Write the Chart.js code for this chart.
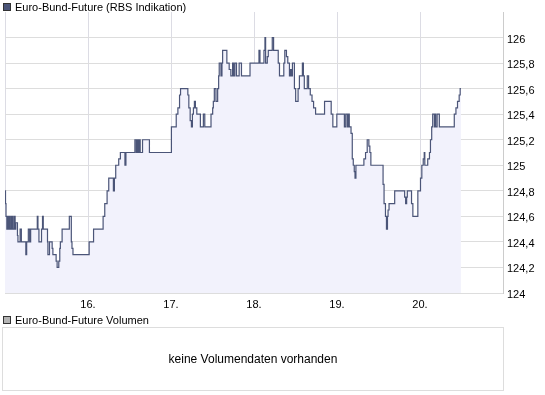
<!DOCTYPE html>
<html>
<head>
<meta charset="utf-8">
<script src="https://cdn.jsdelivr.net/npm/chart.js@4.4.1/dist/chart.umd.min.js"></script>
<style>
    body { margin: 0; background: #fff; font-family: "Liberation Sans", Arial, sans-serif; }
    #wrap { position: relative; width: 545px; height: 395px; overflow: hidden; }
    #priceChart { position: absolute; left: 0; top: 0; }
    .leg { position: absolute; left: 3px; font-size: 11px; color: #000; line-height: 12px; white-space: nowrap; }
    .leg .box { display: inline-block; width: 6px; height: 6px; border: 1px solid #333; margin-right: 4px; vertical-align: 0px; }
    #vol { position: absolute; left: 2px; top: 327px; width: 500px; height: 62px; border: 1px solid #dddddd;
           font-size: 12px; line-height: 62px; text-align: center; color: #000; }
</style>
</head>
<body>
<div id="wrap">
    <canvas id="priceChart" width="545" height="315"></canvas>
    <div class="leg" style="top:1px"><span class="box" style="background:#4b5578"></span>Euro-Bund-Future (RBS Indikation)</div>
    <div class="leg" style="top:314px"><span class="box" style="background:#b4b4b4"></span>Euro-Bund-Future Volumen</div>
    <div id="vol">keine Volumendaten vorhanden</div>
</div>
<script>
// trading days (fractional day of month) and price at each change
const times = [
    15.000, 15.006, 15.012, 15.022, 15.030, 15.042, 15.050, 15.057, 15.072, 15.081,
    15.093, 15.098, 15.114, 15.122, 15.129, 15.150, 15.156, 15.182, 15.197, 15.251,
    15.261, 15.281, 15.297, 15.309, 15.389, 15.397, 15.409, 15.440, 15.452, 15.461,
    15.512, 15.517, 15.536, 15.568, 15.577, 15.616, 15.628, 15.648, 15.660, 15.667,
    15.688, 15.775, 15.799, 15.807, 15.819, 16.014, 16.067, 16.182, 16.202, 16.230,
    16.250, 16.306, 16.318, 16.334, 16.370, 16.390, 16.445, 16.457, 16.565, 16.581,
    16.593, 16.603, 16.617, 16.629, 16.657, 16.740, 17.005, 17.063, 17.083, 17.103,
    17.115, 17.203, 17.215, 17.231, 17.246, 17.258, 17.270, 17.282, 17.294, 17.311,
    17.354, 17.390, 17.407, 17.482, 17.502, 17.510, 17.522, 17.542, 17.562, 17.574,
    17.581, 17.602, 17.614, 17.622, 17.673, 17.701, 17.721, 17.742, 17.754, 17.769,
    17.789, 17.821, 17.849, 17.952, 18.060, 18.072, 18.120, 18.132, 18.140, 18.160,
    18.172, 18.220, 18.236, 18.292, 18.307, 18.359, 18.371, 18.391, 18.407, 18.427,
    18.439, 18.451, 18.463, 18.487, 18.502, 18.531, 18.547, 18.583, 18.595, 18.606,
    18.642, 18.658, 18.678, 18.699, 18.718, 18.742, 18.850, 18.930, 18.950, 18.998,
    19.089, 19.105, 19.124, 19.136, 19.148, 19.169, 19.184, 19.196, 19.208, 19.217,
    19.228, 19.324, 19.344, 19.364, 19.384, 19.396, 19.408, 19.555, 19.567, 19.584,
    19.596, 19.608, 19.615, 19.627, 19.695, 19.815, 19.827, 19.839, 19.847, 19.898,
    19.914, 19.974, 20.006, 20.022, 20.039, 20.051, 20.058, 20.093, 20.114, 20.126,
    20.141, 20.153, 20.174, 20.182, 20.189, 20.206, 20.233, 20.413, 20.433, 20.452,
    20.472, 20.484, 20.493
];
const prices = [
    124.8, 124.7, 124.6, 124.5, 124.6, 124.5, 124.6, 124.5, 124.6, 124.5,
    124.6, 124.5, 124.6, 124.5, 124.55, 124.45, 124.4, 124.5, 124.4, 124.3,
    124.4, 124.5, 124.4, 124.5, 124.6, 124.5, 124.4, 124.5, 124.6, 124.5,
    124.4, 124.3, 124.4, 124.35, 124.3, 124.25, 124.2, 124.25, 124.35, 124.4,
    124.5, 124.6, 124.4, 124.35, 124.3, 124.4, 124.5, 124.6, 124.7, 124.8,
    124.9, 124.8, 124.9, 125.0, 125.05, 125.1, 125.0, 125.1, 125.2, 125.1,
    125.2, 125.1, 125.2, 125.1, 125.2, 125.1, 125.3, 125.4, 125.45, 125.55,
    125.6, 125.55, 125.45, 125.35, 125.3, 125.4, 125.45, 125.5, 125.45, 125.4,
    125.3, 125.4, 125.3, 125.4, 125.45, 125.5, 125.6, 125.5, 125.6, 125.7,
    125.8, 125.7, 125.8, 125.9, 125.8, 125.75, 125.7, 125.8, 125.7, 125.8,
    125.7, 125.8, 125.7, 125.8, 125.9, 125.8, 125.9, 126.0, 125.8, 125.85,
    125.9, 126.0, 125.9, 125.8, 125.7, 125.8, 125.9, 125.85, 125.8, 125.7,
    125.75, 125.7, 125.8, 125.6, 125.5, 125.6, 125.7, 125.8, 125.7, 125.6,
    125.7, 125.6, 125.55, 125.5, 125.45, 125.4, 125.5, 125.4, 125.3, 125.4,
    125.3, 125.4, 125.3, 125.4, 125.3, 125.25, 125.05, 125.0, 124.95, 124.9,
    125.0, 125.05, 125.1, 125.2, 125.15, 125.1, 125.0, 124.85, 124.7, 124.6,
    124.5, 124.6, 124.65, 124.7, 124.8, 124.75, 124.7, 124.75, 124.8, 124.7,
    124.6, 124.8, 124.9, 125.0, 125.05, 125.1, 125.0, 125.05, 125.1, 125.2,
    125.3, 125.4, 125.3, 125.4, 125.3, 125.4, 125.3, 125.4, 125.45, 125.5,
    125.55, 125.6, 125.6
];
const dayTicks = [16, 17, 18, 19, 20];
const dayLabels = ['16.', '17.', '18.', '19.', '20.'];
const priceTicks = [124, 124.2, 124.4, 124.6, 124.8, 125, 125.2, 125.4, 125.6, 125.8, 126];

const font = { family: 'Liberation Sans', size: 11 };

const data = {
    datasets: [{
        label: 'Euro-Bund-Future (RBS Indikation)',
        data: times.map((t, i) => ({ x: t, y: prices[i] })),
        stepped: true,
        borderColor: '#4b5578',
        borderWidth: 1.2,
        backgroundColor: '#f2f2fc',
        fill: 'start',
        pointRadius: 0
    }]
};

const config = {
    type: 'line',
    data,
    options: {
        responsive: false,
        animation: false,
        layout: { padding: { top: 12, left: 2, right: 0, bottom: 0 } },
        plugins: { legend: { display: false }, tooltip: { enabled: false } },
        scales: {
            x: {
                type: 'linear',
                min: 15,
                max: 21,
                afterBuildTicks: s => { s.ticks = [15].concat(dayTicks, [21]).map(v => ({ value: v })); },
                afterFit: s => { s.height = 22; },
                grid: { color: '#dcdce4', drawTicks: false },
                border: { color: '#dddddd' },
                ticks: {
                    font, color: '#000', padding: 5, maxRotation: 0,
                    callback: v => {
                        const k = dayTicks.indexOf(v);
                        return k >= 0 ? dayLabels[k] : '';
                    }
                }
            },
            y: {
                position: 'right',
                min: 124,
                max: 126.2,
                afterBuildTicks: s => { s.ticks = priceTicks.concat([126.2]).map(v => ({ value: v })); },
                afterFit: s => { s.width = 42; },
                grid: {
                    drawTicks: false,
                    color: c => (c.tick && c.tick.value > 126.1) ? 'rgba(0,0,0,0)' : '#dddddd'
                },
                border: { color: '#cccccc' },
                ticks: {
                    font, color: '#000', padding: 4, labelOffset: 2,
                    callback: v => priceTicks.includes(v) ? String(v).replace('.', ',') : ''
                }
            }
        }
    }
};

new Chart(document.getElementById('priceChart'), config);
</script>
</body>
</html>
